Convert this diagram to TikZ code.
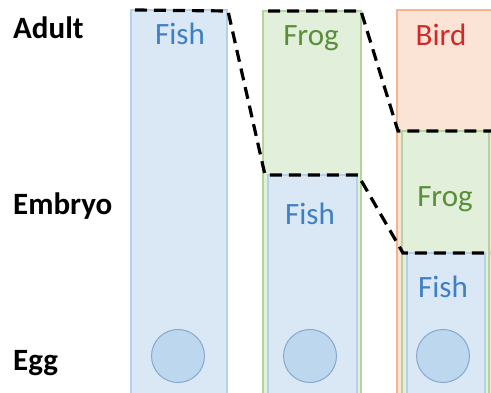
\documentclass[tikz,border=0pt]{standalone}
\usepackage{fontspec}
\setmainfont{Carlito}
\begin{document}
\begin{tikzpicture}[x=1pt,y=-1pt,
  bluebox/.style={fill=bluefill,draw=blueline,line width=1.2pt},
  greenbox/.style={fill=greenfill,draw=greenline,line width=1.2pt},
  orangebox/.style={fill=orangefill,draw=orangeline,line width=1.4pt},
  egg/.style={circle,fill=eggfill,draw=eggline,line width=1pt,minimum size=53pt,inner sep=0pt},
  stagelabel/.style={anchor=base west,font=\fontsize{31}{31}\selectfont\bfseries,inner sep=0pt},
  animal/.style={anchor=base,font=\fontsize{31}{31}\selectfont,inner sep=0pt},
  boundary/.style={line width=3.2pt,dash pattern=on 12pt off 7pt}
]
\definecolor{bluefill}{HTML}{DAE8F5}
\definecolor{blueline}{HTML}{B7D0EA}
\definecolor{greenfill}{HTML}{E2EFDA}
\definecolor{greenline}{HTML}{B3D59C}
\definecolor{orangefill}{HTML}{FBE4D6}
\definecolor{orangeline}{HTML}{F5B38E}
\definecolor{eggfill}{HTML}{BDD7EE}
\definecolor{eggline}{HTML}{86A9CF}
\definecolor{fishtext}{HTML}{3F7FC3}
\definecolor{frogtext}{HTML}{5A8F3A}
\definecolor{birdtext}{HTML}{D42828}
\useasboundingbox (0,0) rectangle (491,393);
\begin{scope}
\clip (0,0) rectangle (491,393);
% column 1
\draw[bluebox] (131,10) rectangle (227,400);
% column 2
\draw[greenbox] (263,11) rectangle (361,400);
\draw[bluebox] (268,175) rectangle (357,400);
% column 3
\draw[orangebox] (397,10) rectangle (498,400);
\draw[greenbox] (402,131) rectangle (489,400);
\draw[bluebox] (407,253) rectangle (485,400);
\end{scope}
% eggs
\node[egg] (egg1) at (178,356) {};
\node[egg] (egg2) at (310,356) {};
\node[egg] (egg3) at (443,356) {};
% stage labels
\node[stagelabel] (adult) at (13,39) {Adult};
\node[stagelabel] (embryo) at (13,215) {Embryo};
\node[stagelabel] (eggl) at (13,371) {Egg};
% animal labels
\node[animal,text=fishtext] (fish1) at (180,45) {Fish};
\node[animal,text=frogtext] (frog2) at (311,46) {Frog};
\node[animal,text=birdtext] (bird3) at (441,46) {Bird};
\node[animal,text=fishtext] (fish2) at (310,225) {Fish};
\node[animal,text=frogtext] (frog3) at (445,207) {Frog};
\node[animal,text=fishtext] (fish3) at (443,298) {Fish};
% boundaries
\coordinate (a1) at (135,10);
\coordinate (a2) at (228,11);
\coordinate (a3) at (265,175);
\coordinate (a4) at (358,175);
\coordinate (a5) at (403,253);
\coordinate (a6) at (491,253);
\coordinate (b1) at (268,11);
\coordinate (b2) at (361,11);
\coordinate (b3) at (398,131);
\coordinate (b4) at (491,131);
\draw[boundary] (a1) -- (a2) -- (a3) -- (a4) -- (a5) -- (a6);
\draw[boundary] (b1) -- (b2) -- (b3) -- (b4);
\end{tikzpicture}
\end{document}
